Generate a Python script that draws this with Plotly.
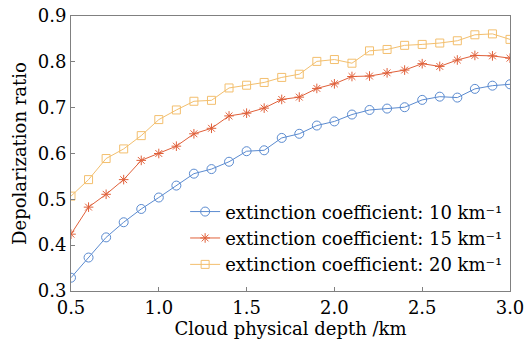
import plotly.graph_objects as go

depth = [0.5, 0.6, 0.7, 0.8, 0.9, 1.0, 1.1, 1.2, 1.3, 1.4, 1.5, 1.6, 1.7,
         1.8, 1.9, 2.0, 2.1, 2.2, 2.3, 2.4, 2.5, 2.6, 2.7, 2.8, 2.9, 3.0]
ext10 = [0.329, 0.373, 0.417, 0.450, 0.479, 0.504, 0.530, 0.556, 0.566, 0.582,
         0.605, 0.607, 0.634, 0.643, 0.661, 0.670, 0.685, 0.695, 0.698, 0.701,
         0.717, 0.724, 0.722, 0.741, 0.748, 0.751]
ext15 = [0.424, 0.483, 0.511, 0.543, 0.585, 0.600, 0.616, 0.643, 0.655, 0.682,
         0.688, 0.699, 0.718, 0.723, 0.742, 0.752, 0.768, 0.769, 0.776, 0.782,
         0.796, 0.790, 0.804, 0.814, 0.813, 0.808]
ext20 = [0.507, 0.543, 0.589, 0.610, 0.639, 0.674, 0.695, 0.714, 0.716, 0.743,
         0.749, 0.755, 0.766, 0.773, 0.801, 0.805, 0.797, 0.824, 0.827, 0.836,
         0.838, 0.841, 0.846, 0.859, 0.861, 0.849]
names = ["extinction coefficient: 10 km⁻¹",
         "extinction coefficient: 15 km⁻¹",
         "extinction coefficient: 20 km⁻¹"]

FONT = "DejaVu Serif"
fig = go.Figure()
styles = [("#5b8bd0", "circle-open", 9), ("#e0603a", "asterisk-open", 8), ("#f3bf6e", "square-open", 8)]
for ys, nm, (c, sym, sz) in zip([ext10, ext15, ext20], names, styles):
    fig.add_trace(go.Scatter(x=depth, y=ys, name=nm, mode="lines+markers",
                             line=dict(color=c, width=1),
                             marker=dict(symbol=sym, size=sz, color=c, line=dict(color=c, width=1))))

axis_common = dict(showline=True, linecolor="#808080", linewidth=1, mirror=True,
                   ticks="inside", ticklen=4, tickcolor="#808080", showgrid=False,
                   zeroline=False, automargin=False,
                   tickfont=dict(family=FONT, size=18, color="black"))
fig.update_xaxes(range=[0.5, 3.0], tickvals=[0.5, 1.0, 1.5, 2.0, 2.5, 3.0], tickformat=".1f",
                 title=dict(text="Cloud physical depth /km", font=dict(family=FONT, size=18, color="black"), standoff=2),
                 **axis_common)
fig.update_yaxes(range=[0.3, 0.9], tickvals=[0.3, 0.4, 0.5, 0.6, 0.7, 0.8, 0.9], tickformat=".1f",
                 title=dict(text="Depolarization ratio", font=dict(family=FONT, size=18, color="black"), standoff=6),
                 **axis_common)
fig.update_layout(width=528, height=339, margin=dict(l=71, r=18, t=16, b=48),
                  paper_bgcolor="white", plot_bgcolor="white",
                  font=dict(family=FONT, size=17, color="black"),
                  legend=dict(x=0.26, y=0.355, xanchor="left", yanchor="top",
                              bgcolor="rgba(255,255,255,0)", font=dict(family=FONT, size=18),
                              tracegroupgap=0, itemwidth=30))
fig.write_html("out.html", config={"displayModeBar": False},
               post_script="document.body.style.margin='0';document.body.style.overflow='hidden';")
